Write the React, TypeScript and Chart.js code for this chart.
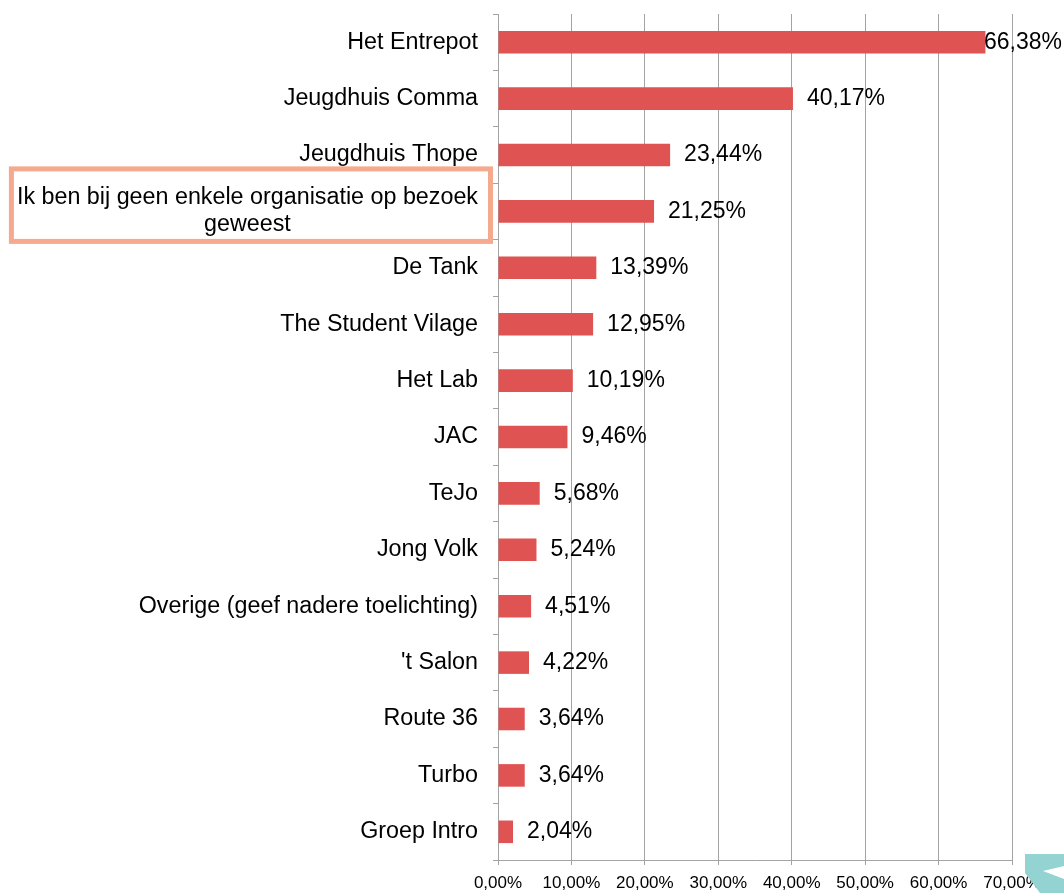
import React, { useEffect, useRef } from "react";
import { Chart, registerables } from "chart.js";

Chart.register(...registerables);

const categories: (string | string[])[] = [
  "Het Entrepot",
  "Jeugdhuis Comma",
  "Jeugdhuis Thope",
  ["Ik ben bij geen enkele organisatie op bezoek", "geweest"],
  "De Tank",
  "The Student Vilage",
  "Het Lab",
  "JAC",
  "TeJo",
  "Jong Volk",
  "Overige (geef nadere toelichting)",
  "'t Salon",
  "Route 36",
  "Turbo",
  "Groep Intro",
];

const values: number[] = [
  66.38, 40.17, 23.44, 21.25, 13.39, 12.95, 10.19, 9.46, 5.68, 5.24, 4.51, 4.22, 3.64, 3.64, 2.04,
];

const xTickValues: number[] = [0, 10, 20, 30, 40, 50, 60, 70];

const highlightedIndex = 3;

const FONT = '"Liberation Sans", Arial, Helvetica, sans-serif';
const BAR_COLOR = "#E05353";
const GRID_COLOR = "#a3a3a3";
const BOX_COLOR = "#F5AA8F";
const LOGO_COLOR = "#93D3D1";

const fmt = (v: number) => v.toFixed(2).replace(".", ",") + "%";

const overlayPlugin = {
  id: "overlay",
  afterDraw(chart: any) {
    const ctx: CanvasRenderingContext2D = chart.ctx;
    const area = chart.chartArea;
    const yScale = chart.scales.y;
    const xScale = chart.scales.x;
    ctx.save();

    // category labels
    ctx.font = `23.3px ${FONT}`;
    ctx.fillStyle = "#000";
    ctx.textBaseline = "middle";
    const right = area.left - 20;
    categories.forEach((label, i) => {
      const y = yScale.getPixelForValue(i);
      const lines = Array.isArray(label) ? label : [label];
      if (lines.length === 1) {
        ctx.textAlign = "right";
        ctx.fillText(lines[0], right, y);
      } else {
        const w0 = ctx.measureText(lines[0]).width;
        const cx = right - w0 / 2;
        ctx.textAlign = "center";
        lines.forEach((ln, j) => {
          ctx.fillText(ln, cx, y + (j - (lines.length - 1) / 2) * 27);
        });
        if (i === highlightedIndex) {
          ctx.strokeStyle = BOX_COLOR;
          ctx.lineWidth = 5;
          const l = cx - w0 / 2 - 5.5;
          const r = right + 12.5;
          ctx.strokeRect(l, y - 42.5, r - l, 72.5);
        }
      }
    });

    // value labels
    ctx.font = `23px ${FONT}`;
    ctx.textAlign = "left";
    const meta = chart.getDatasetMeta(0);
    values.forEach((v, i) => {
      const bar = meta.data[i];
      const text = fmt(v);
      const w = ctx.measureText(text).width;
      let x = xScale.getPixelForValue(v) + 14;
      if (x + w > chart.width - 2) x = chart.width - 2 - w;
      ctx.fillText(text, x, bar.y);
    });

    // decorative logo corner
    const W = chart.width;
    const H = chart.height;
    ctx.fillStyle = LOGO_COLOR;
    ctx.beginPath();
    ctx.moveTo(W - 39, H - 39);
    ctx.lineTo(W, H - 39);
    ctx.lineTo(W, H - 27);
    ctx.lineTo(W - 21, H - 22);
    ctx.lineTo(W, H - 14);
    ctx.lineTo(W, H);
    ctx.lineTo(W - 24, H);
    ctx.lineTo(W - 39, H - 20);
    ctx.closePath();
    ctx.fill();

    ctx.restore();
  },
};

export default function App() {
  const canvasRef = useRef<HTMLCanvasElement | null>(null);

  useEffect(() => {
    if (!canvasRef.current) return;
    const chart = new Chart(canvasRef.current, {
      type: "bar",
      data: {
        labels: categories as any,
        datasets: [
          {
            data: values,
            backgroundColor: BAR_COLOR,
            borderWidth: 0,
            barPercentage: 0.4,
            categoryPercentage: 1,
          },
        ],
      },
      options: {
        indexAxis: "y",
        responsive: false,
        animation: false,
        layout: { padding: { left: 0, top: 14, right: 52, bottom: 0 } },
        plugins: {
          legend: { display: false },
          tooltip: { enabled: false },
        },
        scales: {
          x: {
            min: 0,
            max: 70,
            afterBuildTicks: (s: any) => {
              s.ticks = xTickValues.map((v) => ({ value: v }));
            },
            afterFit: (s: any) => {
              s.height = 33;
            },
            ticks: {
              callback: (v: any) => fmt(Number(v)),
              font: { family: FONT, size: 17 },
              color: "#000",
              padding: 8,
              maxRotation: 0,
              autoSkip: false,
            },
            grid: {
              color: GRID_COLOR,
              lineWidth: 1,
              tickLength: 5,
              drawTicks: true,
            },
            border: { color: GRID_COLOR, width: 1 },
          },
          y: {
            afterFit: (s: any) => {
              s.width = 498;
            },
            ticks: { display: false },
            grid: {
              color: GRID_COLOR,
              drawOnChartArea: false,
              tickLength: 5,
              offset: true,
            },
            border: { color: GRID_COLOR, width: 1 },
          },
        },
      },
      plugins: [overlayPlugin],
    });
    return () => chart.destroy();
  }, []);

  return (
    <div style={{ position: "absolute", left: 0, top: 0, width: 1064, height: 893, background: "#fff" }}>
      <canvas ref={canvasRef} width={1064} height={893} style={{ display: "block" }} />
    </div>
  );
}
